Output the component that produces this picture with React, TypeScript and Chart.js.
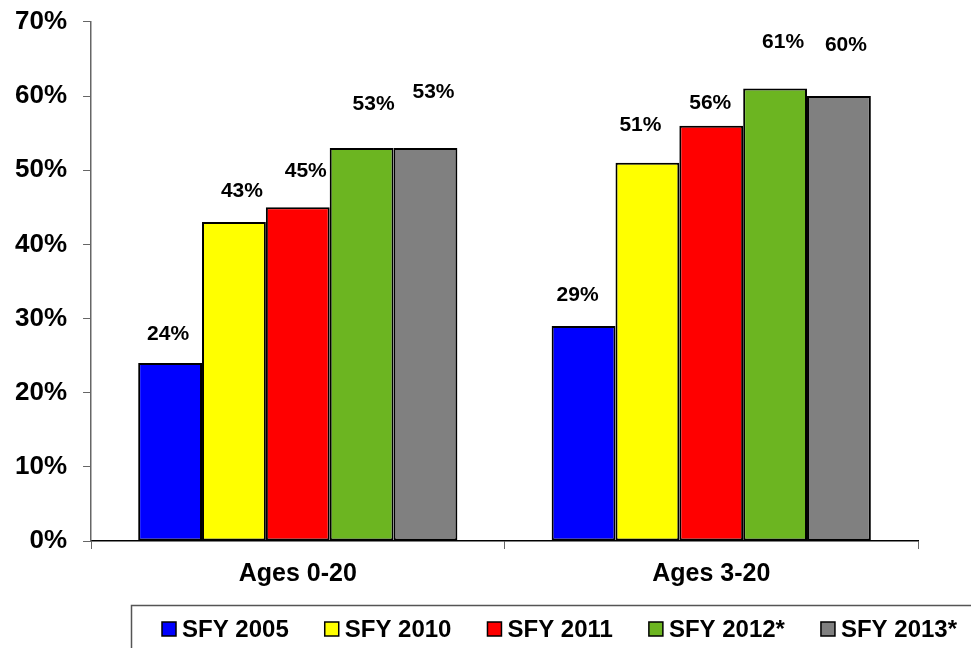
import { useEffect, useRef } from "react";
import { Chart, registerables } from "chart.js";

Chart.register(...registerables);

const categories = ["Ages 0-20", "Ages 3-20"];
const seriesNames = ["SFY 2005", "SFY 2010", "SFY 2011", "SFY 2012*", "SFY 2013*"];
const sfy2005 = [24, 29];
const sfy2010 = [43, 51];
const sfy2011 = [45, 56];
const sfy2012 = [53, 61];
const sfy2013 = [53, 60];
const seriesValues = [sfy2005, sfy2010, sfy2011, sfy2012, sfy2013];
const yTickMax = 70;
const yTickStep = 10;

// styling: colours and data-label placement (label height expressed in % units, x nudge in px)
const colors = ["#0000FF", "#FFFF00", "#FF0000", "#6CB521", "#808080"];
const labelHeights = [
  [27.9, 33.1],
  [47.2, 56.1],
  [49.9, 59.0],
  [58.9, 67.2],
  [60.5, 66.8],
];
const labelNudgeX = [
  [-2, -6],
  [8, -7],
  [8, -1],
  [12, 8],
  [8, 7],
];

const FONT = "'Liberation Sans', Arial, sans-serif";

const dataLabelPlugin = {
  id: "dataLabels",
  afterDatasetsDraw(chart: any) {
    const ctx = chart.ctx;
    const yScale = chart.scales.y;
    ctx.save();
    ctx.font = `bold 21px ${FONT}`;
    ctx.fillStyle = "#000";
    ctx.textAlign = "center";
    ctx.textBaseline = "middle";
    chart.data.datasets.forEach((ds: any, i: number) => {
      const meta = chart.getDatasetMeta(i);
      meta.data.forEach((el: any, j: number) => {
        const x = el.x + labelNudgeX[i][j];
        const y = yScale.getPixelForValue(labelHeights[i][j]);
        ctx.fillText(`${ds.data[j]}%`, x, y);
      });
    });
    ctx.restore();
  },
};

const boxedLegendPlugin = {
  id: "boxedLegend",
  afterDraw(chart: any) {
    const ctx = chart.ctx;
    ctx.save();
    ctx.strokeStyle = "#555";
    ctx.lineWidth = 1.5;
    ctx.strokeRect(131.5, 605.5, 900, 100);
    ctx.font = `bold 24px ${FONT}`;
    ctx.textBaseline = "middle";
    ctx.textAlign = "left";
    let x = 162;
    const cy = 629;
    const box = 14;
    chart.data.datasets.forEach((ds: any) => {
      ctx.fillStyle = ds.backgroundColor;
      ctx.fillRect(x, cy - box / 2, box, box);
      ctx.strokeStyle = "#000";
      ctx.lineWidth = 1.5;
      ctx.strokeRect(x, cy - box / 2, box, box);
      ctx.fillStyle = "#000";
      const tx = x + box + 6;
      ctx.fillText(ds.label, tx, cy + 1);
      x = tx + ctx.measureText(ds.label).width + 36;
    });
    ctx.restore();
  },
};

export default function App() {
  const ref = useRef<HTMLCanvasElement | null>(null);

  useEffect(() => {
    if (!ref.current) return;
    const chart = new Chart(ref.current, {
      type: "bar",
      data: {
        labels: categories,
        datasets: seriesNames.map((name, i) => ({
          label: name,
          data: seriesValues[i],
          backgroundColor: colors[i],
          borderColor: "#000",
          borderWidth: 2,
          borderSkipped: false,
          categoryPercentage: 0.772,
          barPercentage: 1,
        })),
      },
      options: {
        responsive: false,
        animation: false,
        layout: { padding: { top: 0, left: -1, right: 53, bottom: 49 } },
        plugins: {
          legend: { display: false },
          tooltip: { enabled: false },
        },
        scales: {
          x: {
            grid: {
              drawOnChartArea: false,
              drawTicks: true,
              tickLength: 8,
              color: "#666",
              offset: true,
            },
            border: { color: "#000", width: 1.5 },
            ticks: {
              color: "#000",
              padding: 10,
              font: { family: FONT, size: 25, weight: "bold" },
            },
          },
          y: {
            min: 0,
            max: yTickMax,
            grid: {
              drawOnChartArea: false,
              drawTicks: true,
              tickLength: 8,
              color: "#666",
            },
            border: { color: "#666", width: 1.5 },
            ticks: {
              stepSize: yTickStep,
              color: "#000",
              padding: 16,
              font: { family: FONT, size: 26, weight: "bold", lineHeight: 0.45 },
              callback: (v: any) => `${v}%`,
            },
          },
        },
      },
      plugins: [dataLabelPlugin, boxedLegendPlugin],
    });
    return () => chart.destroy();
  }, []);

  return (
    <div style={{ position: "absolute", left: 0, top: 0, width: 971, height: 648, background: "#fff" }}>
      <canvas ref={ref} width={971} height={648} />
    </div>
  );
}
